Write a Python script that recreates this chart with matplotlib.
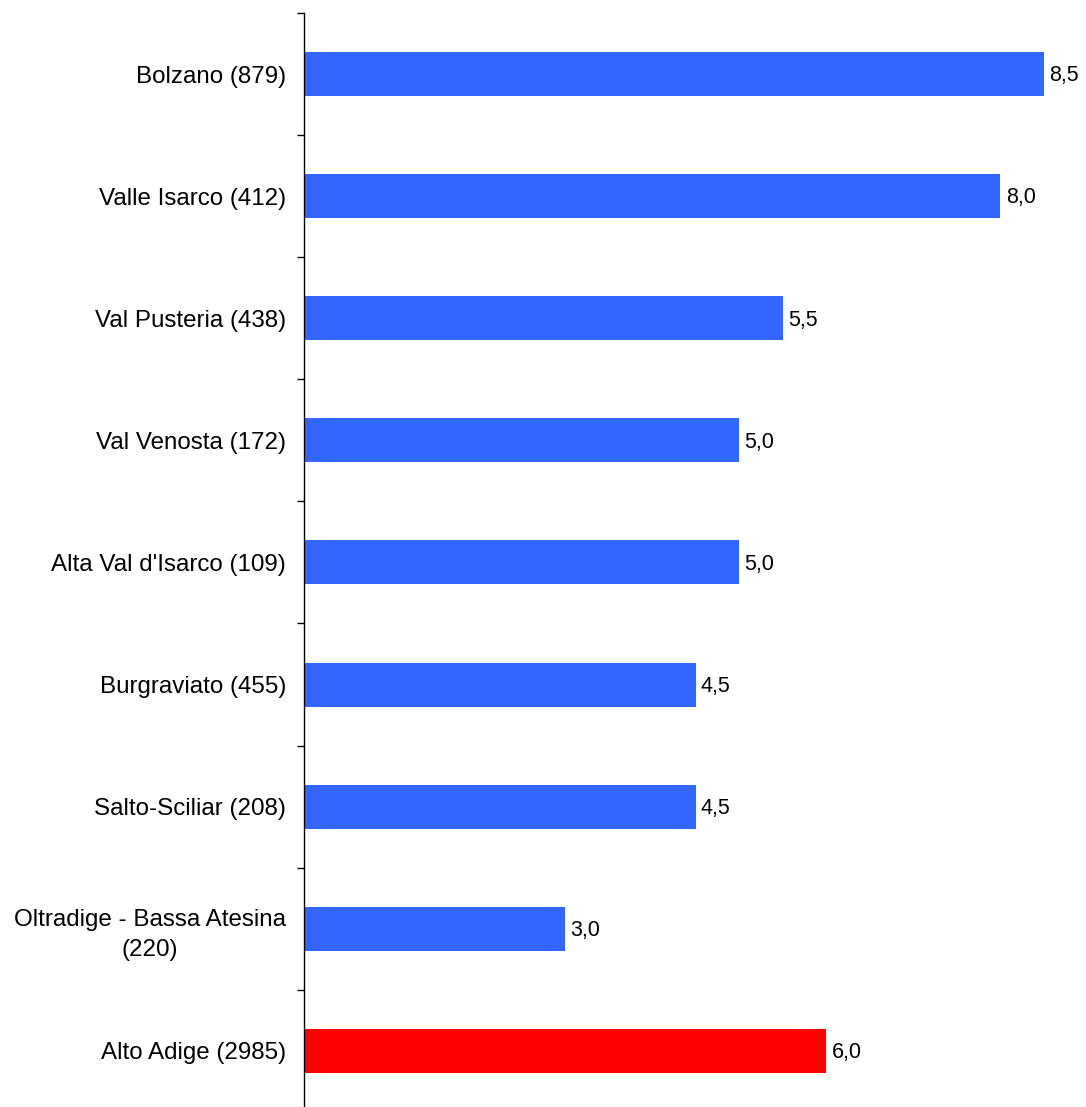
import matplotlib.pyplot as plt
import numpy as np

plt.rcParams['font.family'] = ['Liberation Sans', 'DejaVu Sans']

labels = ['Bolzano (879)', 'Valle Isarco (412)', 'Val Pusteria (438)',
          'Val Venosta (172)', "Alta Val d'Isarco (109)", 'Burgraviato (455)',
          'Salto-Sciliar (208)', 'Oltradige - Bassa Atesina\n(220)',
          'Alto Adige (2985)']
values = [8.5, 8.0, 5.5, 5.0, 5.0, 4.5, 4.5, 3.0, 6.0]
colors = ['#3366FF'] * 8 + ['#FF0000']

fig = plt.figure(figsize=(10.86, 11.07), dpi=100)
W, H = 1086, 1107
# axes placed in pixels: left edge 304, top 13, 122.1 px per category
ax = fig.add_axes([304 / W, (H - 13 - 9 * 122.1) / H, 9 * 87.06 / W, 9 * 122.1 / H])

y = np.arange(len(labels))
ax.barh(y, values, height=0.36, color=colors)
for yi, v in zip(y, values):
    ax.text(v + 0.06, yi + 0.015, f'{v:.1f}'.replace('.', ','), va='center',
            ha='left', fontsize=15.5)

ax.set_xlim(0, 9)
ax.set_ylim(len(labels) - 0.5, -0.5)
ax.set_yticks(y)
ax.set_yticklabels(labels, fontsize=17.4, linespacing=1.45)
for t in ax.get_yticklabels():
    t.set_multialignment('center')
ax.set_yticks(np.arange(len(labels) + 1) - 0.5, minor=True)
ax.tick_params(axis='y', which='major', length=0, pad=13)
ax.tick_params(axis='y', which='minor', length=5, width=1, direction='out')
ax.xaxis.set_visible(False)
for s in ['top', 'right', 'bottom']:
    ax.spines[s].set_visible(False)
ax.spines['left'].set_linewidth(1)

fig.savefig('out.png', dpi=100)
